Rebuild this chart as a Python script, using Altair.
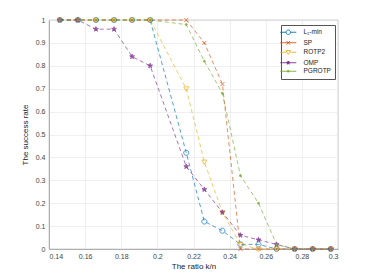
import altair as alt
import pandas as pd

ratio = [0.146, 0.156, 0.166, 0.176, 0.186, 0.196, 0.216, 0.226, 0.236,
         0.246, 0.256, 0.266, 0.276, 0.286, 0.296]
series_names = ["L\u2081-min", "SP", "ROTP2", "OMP", "PGROTP"]
l1_min = [1, 1, 1, 1, 1, 1, 0.42, 0.12, 0.08, 0.02, 0.02, 0, 0, 0, 0]
sp = [1, 1, 1, 1, 1, 1, 1, 0.90, 0.72, 0, 0, 0, 0, 0, 0]
rotp2 = [1, 1, 1, 1, 1, 1, 0.70, 0.38, 0.16, 0.02, 0, 0, 0, 0, 0]
omp = [1, 1, 0.96, 0.96, 0.84, 0.80, 0.36, 0.26, 0.16, 0.06, 0.04, 0.02, 0, 0, 0]
pgrotp = [1, 1, 1, 1, 1, 1, 0.98, 0.82, 0.68, 0.32, 0.20, 0.02, 0, 0, 0]
x_ticks = [0.14, 0.16, 0.18, 0.20, 0.22, 0.24, 0.26, 0.28, 0.30]
y_ticks = [0, 0.1, 0.2, 0.3, 0.4, 0.5, 0.6, 0.7, 0.8, 0.9, 1.0]

colors = ["#0072BD", "#D95319", "#EDB120", "#7E2F8E", "#77AC30"]
fills = ["transparent", "transparent", "transparent", "#7E2F8E", "#77AC30"]

circle = "M-1,0A1,1 0 1,1 1,0A1,1 0 1,1 -1,0"
xmark = "M-0.8,-0.8L0.8,0.8M-0.8,0.8L0.8,-0.8"
tri = "M-1,-0.75L1,-0.75L0,1Z"
star = ("M0,-1L0.223,-0.307L0.951,-0.309L0.361,0.117L0.588,0.809L0,0.38"
        "L-0.588,0.809L-0.361,0.117L-0.951,-0.309L-0.223,-0.307Z")
star_small = ("M0,-0.8L0.18,-0.25L0.76,-0.25L0.29,0.09L0.47,0.65L0,0.3"
              "L-0.47,0.65L-0.29,0.09L-0.76,-0.25L-0.18,-0.25Z"
              "M0,-0.4L0,0.3M-0.4,-0.1L0.4,-0.1")
dot = "M-0.4,0A0.4,0.4 0 1,1 0.4,0A0.4,0.4 0 1,1 -0.4,0"
marker_paths = [circle, xmark, tri, star, dot]
line_seg = "M-3.6,0L-1,0M1,0L3.6,0"
legend_paths = [
    line_seg + circle,
    "M-3.6,0L3.6,0" + xmark,
    line_seg + tri,
    "M-3.6,0L3.6,0" + star_small,
    "M-3.6,0L3.6,0M-0.3,-0.3L0.3,-0.3L0.3,0.3L-0.3,0.3Z",
]

rows = []
for name, vals in zip(series_names, [l1_min, sp, rotp2, omp, pgrotp]):
    for x, y in zip(ratio, vals):
        rows.append({"ratio": x, "rate": y, "series": name})
df = pd.DataFrame(rows)

x_axis = alt.Axis(values=x_ticks, format=".2~f", title="The ratio k/n",
                  grid=True, ticks=False, labelPadding=3, titlePadding=3,
                  labelOverlap=False)
y_axis = alt.Axis(values=y_ticks, format=".1~f", title="The success rate",
                  grid=True, ticks=False, labelPadding=4, titlePadding=6,
                  labelOverlap=False)
xscale = alt.Scale(domain=[0.14, 0.3], nice=False)
yscale = alt.Scale(domain=[0, 1], nice=False)
xenc = alt.X("ratio:Q", scale=xscale, axis=x_axis)
yenc = alt.Y("rate:Q", scale=yscale, axis=y_axis)

lines = alt.Chart(df).mark_line(strokeWidth=0.9, strokeDash=[4, 3], opacity=0.75).encode(
    x=xenc, y=yenc,
    color=alt.Color("series:N", scale=alt.Scale(domain=series_names, range=colors), legend=None),
    detail="series:N",
)

markers = alt.Chart(df).mark_point(size=26, strokeWidth=0.9, filled=True, opacity=0.8).encode(
    x=xenc, y=yenc,
    stroke=alt.Stroke("series:N", scale=alt.Scale(domain=series_names, range=colors), legend=None),
    fill=alt.Fill("series:N", scale=alt.Scale(domain=series_names, range=fills), legend=None),
    shape=alt.Shape("series:N", scale=alt.Scale(domain=series_names, range=marker_paths), legend=None),
)

leg = alt.Legend(title=None, orient="none", legendX=232, legendY=5,
                 fillColor="white", strokeColor="#555555", padding=4,
                 symbolSize=20, symbolStrokeWidth=0.9, symbolOpacity=1,
                 symbolFillColor="transparent",
                 labelFont="Liberation Sans", labelFontSize=6.5, labelColor="#222222",
                 labelOffset=12, rowPadding=1.5, offset=0)

legend_layer = alt.Chart(df).mark_point(size=20, opacity=0, filled=False).encode(
    x=xenc, y=yenc,
    color=alt.Color("series:N", scale=alt.Scale(domain=series_names, range=colors), legend=leg),
    shape=alt.Shape("series:N", scale=alt.Scale(domain=series_names, range=legend_paths), legend=leg),
)

chart = alt.layer(lines, markers, legend_layer).resolve_scale(
    shape="independent", color="independent"
).properties(
    width=289, height=229,
    autosize=alt.AutoSizeParams(type="none"),
    padding={"left": 41, "top": 12, "right": 10, "bottom": 30},
).configure_view(stroke="#9a9a9a", strokeWidth=0.7).configure_axis(
    labelFont="Liberation Sans", titleFont="Liberation Sans",
    labelFontSize=7, titleFontSize=8, titleFontWeight="normal",
    labelColor="#444444", titleColor="#222222", labelOverlap=False,
    domainColor="#9a9a9a", domainWidth=0.7, gridColor="#e8e8e8", gridWidth=0.7,
)

chart.save("out.html", embed_options={"renderer": "svg", "actions": False})
